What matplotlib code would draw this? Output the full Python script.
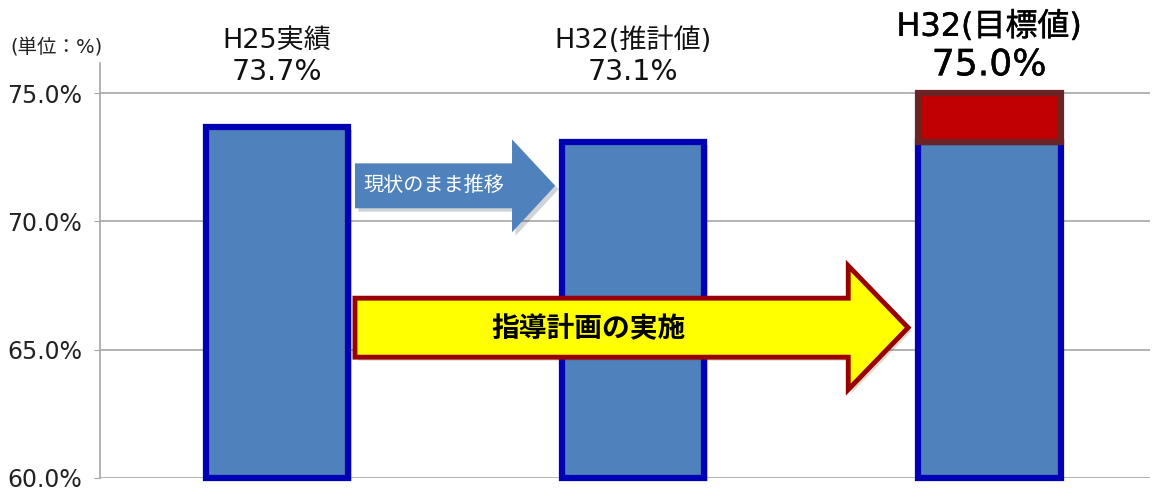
import matplotlib
matplotlib.use('Agg')
import matplotlib.pyplot as plt
import matplotlib.patheffects as pe
from matplotlib.patches import FancyArrow

plt.rcParams['font.family'] = ['DejaVu Sans', 'Noto Sans CJK JP']

# data
categories = ['H25実績', 'H32(推計値)', 'H32(目標値)']
values = [73.7, 73.1, 73.1]
target_extra = [0, 0, 1.9]
value_labels = ['73.7%', '73.1%', '75.0%']
yticks = [60, 65, 70, 75]

blue = '#4F81BD'
edge_blue = '#0000B4'
grid_gray = '#A6A6A6'

fig = plt.figure(figsize=(11.53, 4.9), dpi=100)
ax = fig.add_axes([0.0867, 0.0245, 0.9103, 0.8465])

x = list(range(len(categories)))
shadow = [pe.SimplePatchShadow(offset=(2.5, -2.5), alpha=0.2), pe.Normal()]

bars = ax.bar(x, [v - 60 for v in values], bottom=60, width=0.4,
              color=blue, edgecolor=edge_blue, linewidth=4.5, zorder=3,
              clip_on=False)
for b in bars:
    b.set_path_effects(shadow)
red = ax.bar(x, target_extra, bottom=values, width=0.4, color='#C00000',
             edgecolor='#6B2424', linewidth=4.5, zorder=4)
red[0].set_visible(False)
red[1].set_visible(False)
red[2].set_path_effects(shadow)

ax.set_xlim(-0.497, 2.45)
ax.set_ylim(60, 76.17)
ax.set_yticks(yticks)
ax.set_yticklabels([f'{t:.1f}%' for t in yticks], fontsize=17, color='#222222')
ax.set_xticks([])
ax.yaxis.grid(True, color=grid_gray, linewidth=1.2, zorder=0)
ax.tick_params(axis='y', length=4, color=grid_gray, pad=9)
for s in ['top', 'right', 'bottom']:
    ax.spines[s].set_visible(False)
ax.spines['left'].set_color(grid_gray)
ax.spines['left'].set_linewidth(1.2)

# labels above bars
for i in range(2):
    ax.text(x[i], 77.06, categories[i], ha='center', va='center', fontsize=19.5,
            color='#111111', clip_on=False)
    ax.text(x[i], 75.82, value_labels[i], ha='center', va='center', fontsize=20.5,
            color='#111111', clip_on=False)
bold_fx = [pe.withStroke(linewidth=0.3, foreground='black')]
ax.text(x[2], 77.57, categories[2], ha='center', va='center', fontsize=23,
        color='#000000', clip_on=False, path_effects=bold_fx)
ax.text(x[2], 76.09, value_labels[2], ha='center', va='center', fontsize=26,
        color='#000000', clip_on=False, path_effects=bold_fx)

fig.text(0.009, 0.905, '(単位：%)', fontsize=14, color='#222222', va='center')

# blue arrow: trend as is
a1 = FancyArrow(0.219, 71.39, 0.562, 0, width=1.75, head_width=3.62,
                head_length=0.121, length_includes_head=True,
                facecolor=blue, edgecolor='none', zorder=5)
a1.set_path_effects(shadow)
ax.add_patch(a1)
ax.text(0.44, 71.39, '現状のまま推移', ha='center', va='center', fontsize=14.5,
        color='white', zorder=6)

# yellow arrow: guidance plan
a2 = FancyArrow(0.219, 65.86, 1.553, 0, width=2.3, head_width=4.83,
                head_length=0.168, length_includes_head=True,
                facecolor='#FFFF00', edgecolor='#990000', linewidth=3.5,
                zorder=5)
a2.set_path_effects(shadow)
ax.add_patch(a2)
ax.text(0.876, 65.8, '指導計画の実施', ha='center', va='center', fontsize=20,
        fontweight='bold', color='black', zorder=6)

fig.savefig('out.png', dpi=100)
